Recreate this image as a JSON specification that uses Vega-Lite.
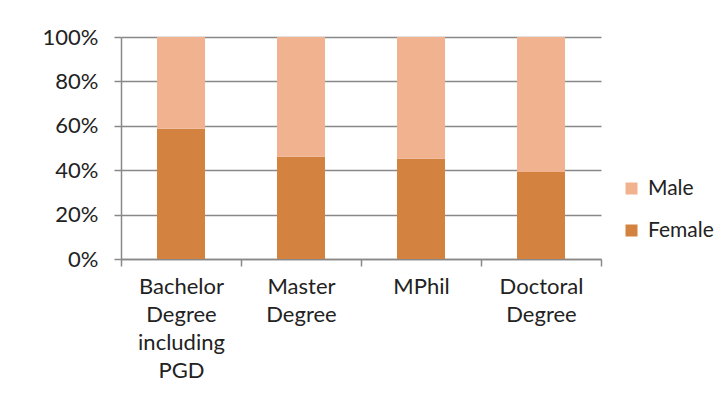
{
  "$schema": "https://vega.github.io/schema/vega-lite/v6.json",
  "autosize": "none",
  "width": 480,
  "height": 222,
  "padding": {"left": 121, "top": 37, "right": 121, "bottom": 144},
  "background": "white",
  "data": {
    "values": [
      {"degree": "Bachelor Degree including PGD", "sex": "Female", "share": 58.7},
      {"degree": "Bachelor Degree including PGD", "sex": "Male", "share": 41.3},
      {"degree": "Master Degree", "sex": "Female", "share": 46.1},
      {"degree": "Master Degree", "sex": "Male", "share": 53.9},
      {"degree": "MPhil", "sex": "Female", "share": 45.2},
      {"degree": "MPhil", "sex": "Male", "share": 54.8},
      {"degree": "Doctoral Degree", "sex": "Female", "share": 39.2},
      {"degree": "Doctoral Degree", "sex": "Male", "share": 60.8}
    ]
  },
  "mark": {"type": "bar", "width": {"band": 0.4}},
  "encoding": {
    "x": {
      "field": "degree",
      "type": "nominal",
      "sort": null,
      "scale": {"paddingInner": 0, "paddingOuter": 0},
      "axis": {
        "title": null,
        "labelAngle": 0,
        "labelExpr": "split(datum.label, ' ')",
        "labelFont": "Lato",
        "labelFontSize": 22,
        "labelLineHeight": 28,
        "labelColor": "#222222",
        "labelPadding": 10,
        "labelBaseline": "top",
        "labelBound": false,
        "labelOverlap": false,
        "tickBand": "extent",
        "tickSize": 7,
        "tickColor": "#888888",
        "tickWidth": 1.5,
        "domainColor": "#888888",
        "domainWidth": 1.5,
        "grid": false
      }
    },
    "y": {
      "field": "share",
      "type": "quantitative",
      "stack": "normalize",
      "scale": {"domain": [0, 1]},
      "axis": {
        "title": null,
        "format": "%",
        "values": [0, 0.2, 0.4, 0.6, 0.8, 1],
        "labelFont": "Lato",
        "labelFontSize": 22,
        "labelColor": "#222222",
        "labelPadding": 16,
        "labelOverlap": false,
        "labelBound": false,
        "labelFlush": false,
        "tickSize": 7,
        "tickColor": "#888888",
        "tickWidth": 1.5,
        "domainColor": "#888888",
        "domainWidth": 1.5,
        "gridColor": "#888888",
        "gridWidth": 1.5,
        "gridOpacity": 1
      }
    },
    "color": {
      "field": "sex",
      "type": "nominal",
      "scale": {"domain": ["Male", "Female"], "range": ["#F1B290", "#D38240"]},
      "legend": {
        "title": null,
        "orient": "none",
        "legendX": 500,
        "legendY": 141,
        "padding": 0,
        "symbolType": "square",
        "symbolSize": 144,
        "symbolStrokeWidth": 0,
        "labelFont": "Lato",
        "labelFontSize": 21,
        "labelColor": "#222222",
        "labelOffset": 6,
        "rowPadding": 20
      }
    },
    "order": {"field": "sex", "sort": "ascending"}
  },
  "config": {"view": {"stroke": null}}
}
